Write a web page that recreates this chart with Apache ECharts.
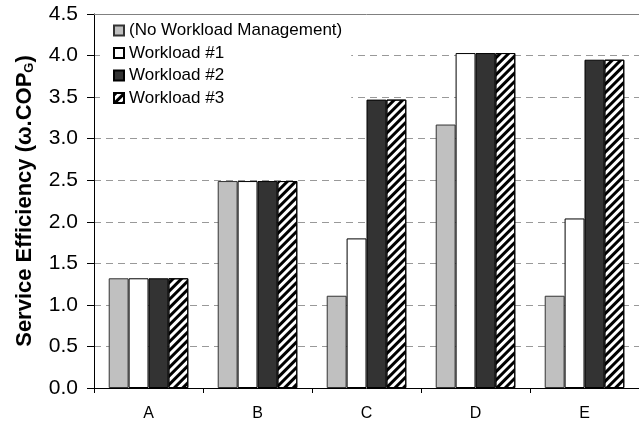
<!DOCTYPE html>
<html>
<head>
<meta charset="utf-8">
<script src="https://cdn.jsdelivr.net/npm/echarts@6/dist/echarts.min.js"></script>
<style>
  html, body { margin: 0; padding: 0; background: #fff; }
  #chart { width: 639px; height: 425px; }
</style>
</head>
<body>
<div id="chart"></div>
<script>
// Categories along the x axis
const categories = ['A', 'B', 'C', 'D', 'E'];

// Service efficiency per scenario
const noManagement = [1.32, 2.49, 1.11, 3.17, 1.11];
const workload1    = [1.32, 2.49, 1.80, 4.03, 2.04];
const workload2    = [1.32, 2.49, 3.47, 4.03, 3.95];
const workload3    = [1.32, 2.49, 3.47, 4.03, 3.95];

const seriesNames = ['(No Workload Management)', 'Workload #1', 'Workload #2', 'Workload #3'];

const FONT = '"Liberation Sans", Arial, Helvetica, sans-serif';

const chart = echarts.init(document.getElementById('chart'), null, { renderer: 'canvas' });

const barBase = {
  type: 'bar',
  barGap: '0%',
  barCategoryGap: '27%',
  xAxisIndex: 0,
  yAxisIndex: 0
};

chart.setOption({
  animation: false,
  backgroundColor: '#ffffff',
  grid: { left: 94, right: 0, top: 14, bottom: 37, containLabel: false },
  legend: {
    data: seriesNames,
    orient: 'vertical',
    left: 100,
    top: 17,
    padding: [5, 9, 5, 13],
    backgroundColor: '#ffffff',
    itemWidth: 10,
    itemHeight: 10,
    itemGap: 5.5,
    icon: 'rect',
    textStyle: { fontFamily: FONT, fontSize: 17, color: '#000', lineHeight: 17 }
  },
  xAxis: [
    {
      type: 'category',
      data: categories,
      position: 'bottom',
      boundaryGap: true,
      axisLine: { show: true, lineStyle: { color: '#000', width: 1 } },
      axisTick: { show: true, alignWithLabel: false, length: 5, lineStyle: { color: '#000' } },
      axisLabel: { fontFamily: FONT, fontSize: 16, color: '#000', margin: 18 },
      splitLine: { show: false }
    },
    {
      type: 'category',
      data: categories,
      position: 'top',
      axisLine: { show: true, lineStyle: { color: '#808080', width: 1 } },
      axisTick: { show: false },
      axisLabel: { show: false },
      splitLine: { show: false }
    }
  ],
  yAxis: {
    type: 'value',
    min: 0,
    max: 4.5,
    interval: 0.5,
    name: 'Service Efficiency (ω.COP{sub|G})',
    nameLocation: 'middle',
    nameGap: 58,
    nameRotate: 90,
    nameTextStyle: {
      fontFamily: FONT,
      fontSize: 22,
      fontWeight: 'bold',
      color: '#000',
      rich: {
        sub: {
          fontFamily: FONT,
          fontSize: 13,
          fontWeight: 'bold',
          color: '#000',
          verticalAlign: 'bottom',
          padding: [10, 0, 0, 0]
        }
      }
    },
    axisLine: { show: true, lineStyle: { color: '#000', width: 1 } },
    axisTick: { show: true, length: 7, lineStyle: { color: '#000' } },
    axisLabel: {
      fontFamily: FONT,
      fontSize: 21,
      color: '#000',
      margin: 16,
      formatter: v => v.toFixed(1)
    },
    splitLine: { show: true, lineStyle: { color: '#999', type: [7, 5], width: 1 } }
  },
  series: [
    Object.assign({}, barBase, {
      name: seriesNames[0],
      data: noManagement,
      itemStyle: { color: '#c0c0c0', borderColor: '#333', borderWidth: 1 }
    }),
    Object.assign({}, barBase, {
      name: seriesNames[1],
      data: workload1,
      itemStyle: { color: '#ffffff', borderColor: '#000', borderWidth: 1 }
    }),
    Object.assign({}, barBase, {
      name: seriesNames[2],
      data: workload2,
      itemStyle: { color: '#333333', borderColor: '#000', borderWidth: 1 }
    }),
    Object.assign({}, barBase, {
      name: seriesNames[3],
      data: workload3,
      itemStyle: {
        color: '#ffffff',
        borderColor: '#000',
        borderWidth: 1,
        decal: {
          symbol: 'rect',
          symbolSize: 1,
          color: '#000',
          dashArrayX: [1, 0],
          dashArrayY: [3, 3],
          rotation: -Math.PI / 4
        }
      }
    })
  ]
});
</script>
</body>
</html>
